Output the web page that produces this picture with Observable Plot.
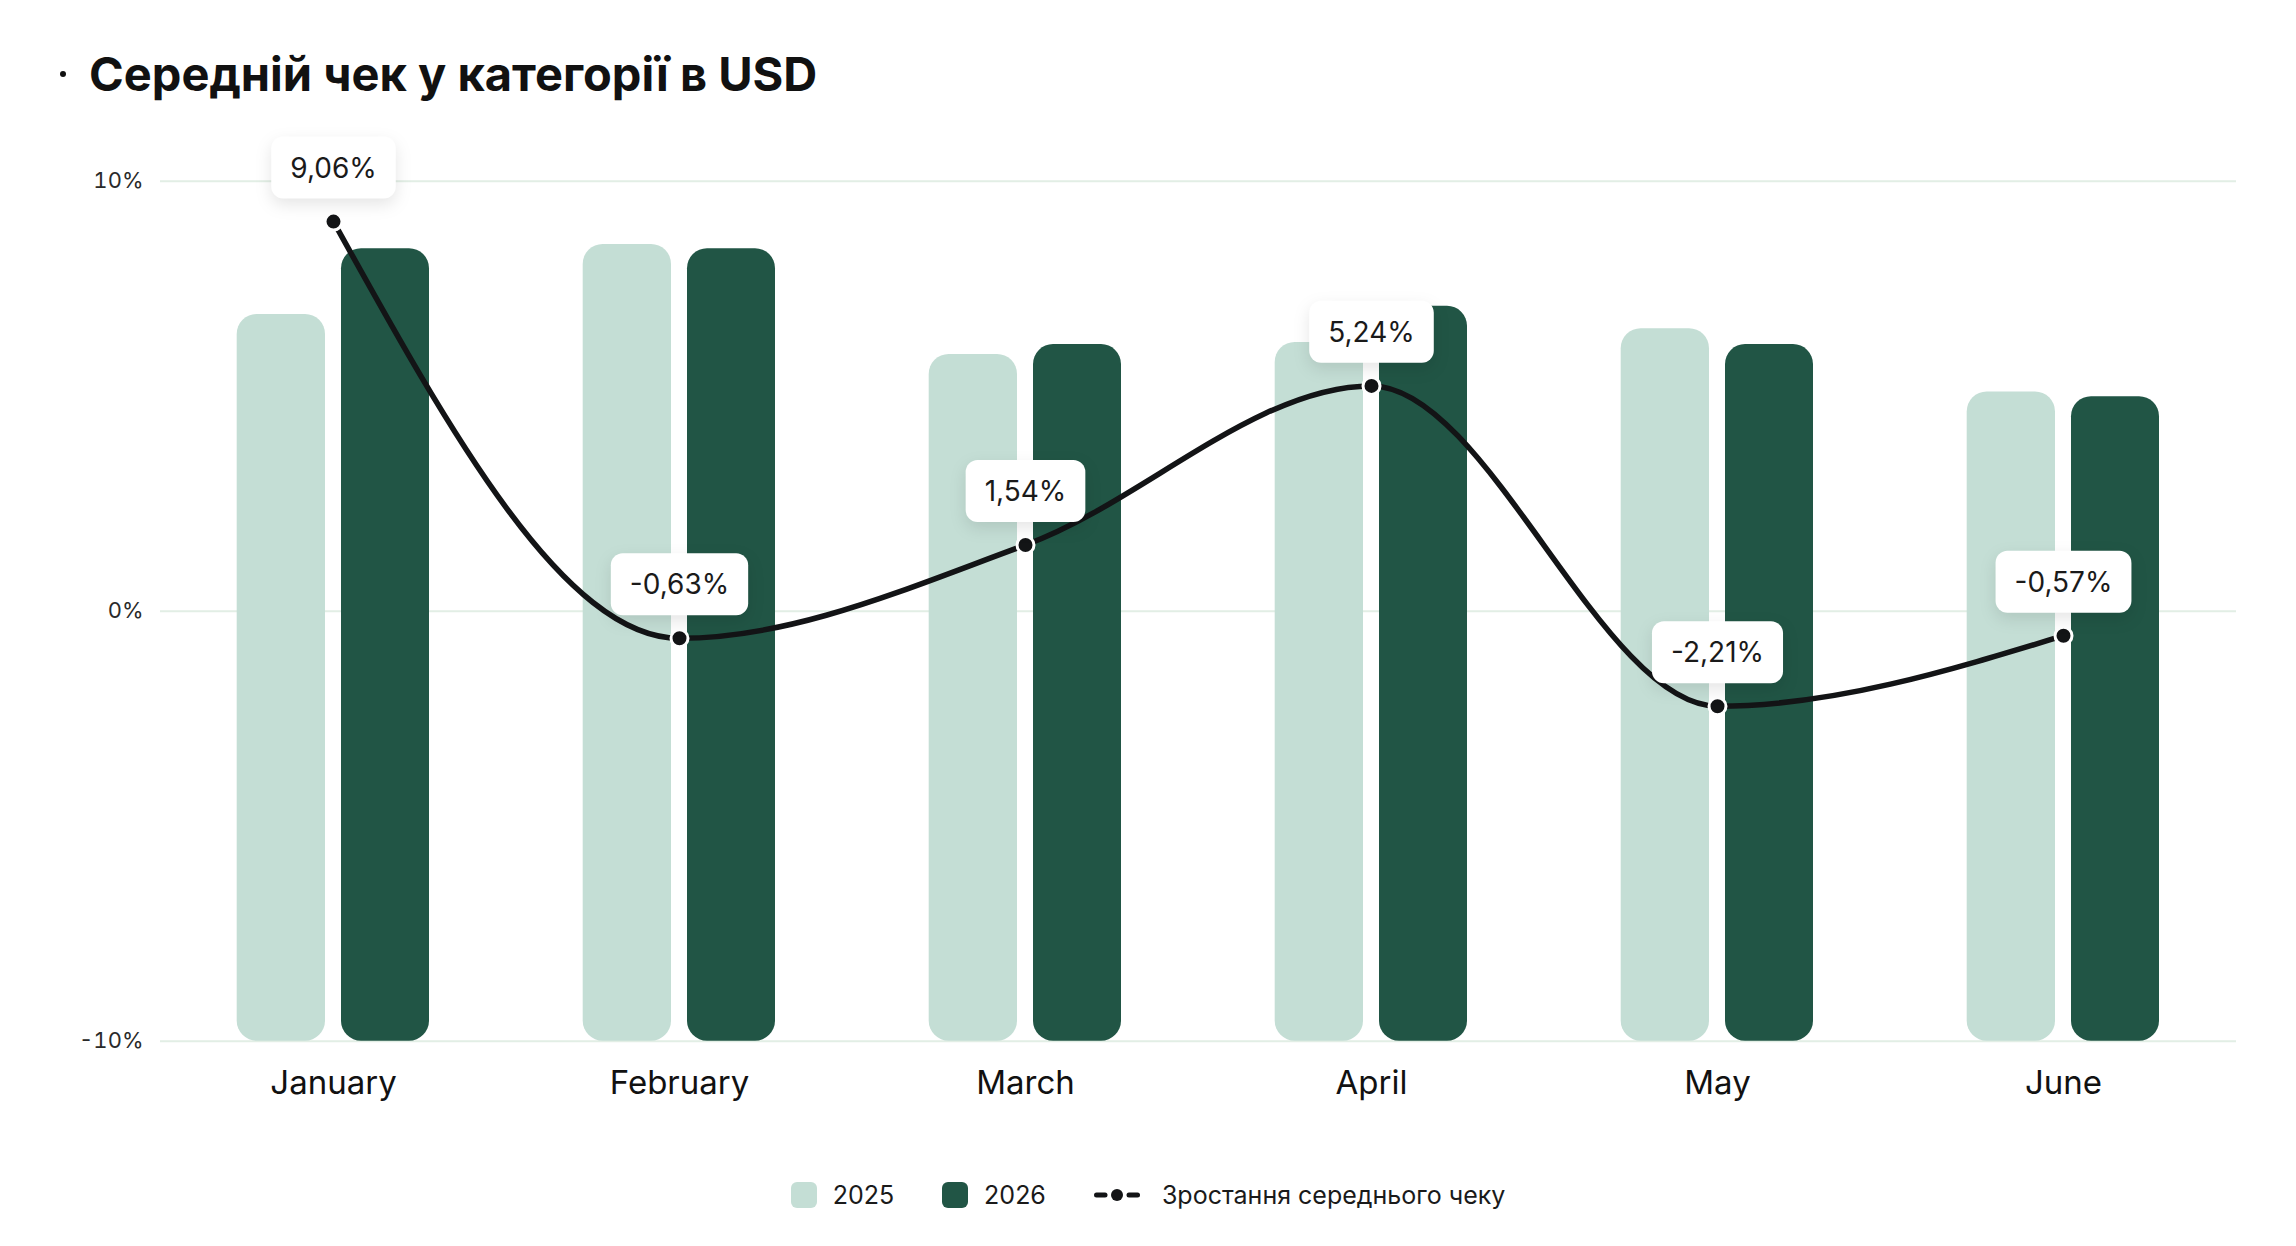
<!DOCTYPE html>
<html>
<head>
<meta charset="utf-8">
<script src="https://cdn.jsdelivr.net/npm/d3@7"></script>
<script src="https://cdn.jsdelivr.net/npm/@observablehq/plot@0.6"></script>
<style>
  html, body { margin: 0; padding: 0; background: #fff; }
  body { width: 2296px; height: 1246px; font-family: Inter, "Open Sans", sans-serif; color: #111; overflow: hidden; }
  #title { height: 120px; position: relative; }
  #title .inner { position: absolute; left: 60px; top: 46px; height: 56px; display: flex; align-items: center; font-size: 47px; line-height: 56px; font-weight: 700; color: #111; }
  #title .bullet { display: inline-block; width: 6px; height: 6px; border-radius: 50%; background: #111; margin-right: 23px; }
  #chart svg { display: block; }
  #legend { display: flex; justify-content: center; align-items: center; padding-top: 42px; font-size: 25px; line-height: 26px; color: #1a1a1a; }
  .item { display: flex; align-items: center; margin: 0 24px; }
  .sw { width: 26px; height: 26px; border-radius: 6px; margin-right: 16px; }
  .lsym { margin-right: 22px; }
</style>
</head>
<body>
<div id="title"><div class="inner"><span class="bullet"></span><span>Середній чек у категорії в USD</span></div></div>
<div id="chart"></div>
<div id="legend"></div>
<script>
const months = ["January", "February", "March", "April", "May", "June"];
const avg2025 = [6.90, 8.53, 5.97, 6.25, 6.57, 5.10];
const avg2026 = [8.43, 8.43, 6.20, 7.09, 6.20, 4.99];
const growth = [9.06, -0.63, 1.54, 5.24, -2.21, -0.57];
const yTicks = [-10, 0, 10];
const seriesNames = ["2025", "2026"];
const lineName = "Зростання середнього чеку";

const colors = { c2025: "#c4ded5", c2026: "#215545", line: "#131416", grid: "#e2eee5" };

const rows2025 = months.map((m, i) => ({ month: m, value: avg2025[i] }));
const rows2026 = months.map((m, i) => ({ month: m, value: avg2026[i] }));
const rowsGrowth = months.map((m, i) => ({ month: m, value: growth[i] }));
const fmt = v => v.toFixed(2).replace(".", ",") + "%";

const plot = Plot.plot({
  width: 2296,
  height: 1020,
  marginTop: 60.7,
  marginBottom: 99.3,
  marginLeft: 160,
  marginRight: 60,
  style: { fontFamily: "Inter, 'Open Sans', sans-serif", background: "transparent", overflow: "visible" },
  x: { domain: months, padding: 0 },
  y: { domain: [-10, 10] },
  marks: [
    Plot.ruleY(yTicks, { stroke: colors.grid, strokeWidth: 2 }),
    Plot.axisY(yTicks, { tickSize: 0, tickPadding: 17, tickFormat: d => d + "%", fontSize: 22, fill: "#2a2a2a", label: null }),
    Plot.axisX({ tickSize: 0, tickPadding: 29, fontSize: 33, fill: "#111", label: null }),
    Plot.barY(rows2025, { x: "month", y1: -10, y2: "value", fill: colors.c2025, rx: 20, insetLeft: 76.7, insetRight: 181 }),
    Plot.barY(rows2026, { x: "month", y1: -10, y2: "value", fill: colors.c2026, rx: 20, insetLeft: 181, insetRight: 77 }),
    Plot.line(rowsGrowth, { x: "month", y: "value", curve: "monotone-x", stroke: colors.line, strokeWidth: 5.5 }),
    Plot.dot(rowsGrowth, { x: "month", y: "value", r: 8.5, fill: colors.line, stroke: "#fff", strokeWidth: 3 }),
    Plot.text(rowsGrowth, { x: "month", y: "value", text: d => fmt(d.value), dy: -53, fontSize: 28, fill: "#1a1a1a" })
  ]
});
document.getElementById("chart").appendChild(plot);

// white rounded label boxes behind the value labels
const labelGroup = plot.querySelector('g[aria-label="text"]');
if (labelGroup) {
  labelGroup.querySelectorAll("text").forEach(t => {
    const bb = t.getBBox();
    const cy = bb.y + bb.height / 2;
    const r = document.createElementNS("http://www.w3.org/2000/svg", "rect");
    r.setAttribute("x", bb.x - 19);
    r.setAttribute("y", cy - 31);
    r.setAttribute("width", bb.width + 38);
    r.setAttribute("height", 62);
    r.setAttribute("rx", 12);
    r.setAttribute("fill", "#fff");
    r.style.filter = "drop-shadow(0px 6px 8px rgba(0,0,0,0.10))";
    if (t.getAttribute("transform")) r.setAttribute("transform", t.getAttribute("transform"));
    labelGroup.insertBefore(r, t);
  });
}

// legend
const legend = document.getElementById("legend");
[[seriesNames[0], colors.c2025], [seriesNames[1], colors.c2026]].forEach(([name, c]) => {
  const it = document.createElement("div");
  it.className = "item";
  it.innerHTML = `<span class="sw" style="background:${c}"></span><span>${name}</span>`;
  legend.appendChild(it);
});
const li = document.createElement("div");
li.className = "item";
li.innerHTML = `<svg class="lsym" width="46" height="16" viewBox="0 0 46 16">
  <line x1="2.5" y1="8" x2="11" y2="8" stroke="${colors.line}" stroke-width="5" stroke-linecap="round"/>
  <line x1="35" y1="8" x2="43.5" y2="8" stroke="${colors.line}" stroke-width="5" stroke-linecap="round"/>
  <circle cx="23" cy="8" r="6" fill="${colors.line}"/></svg><span>${lineName}</span>`;
legend.appendChild(li);
</script>
</body>
</html>
